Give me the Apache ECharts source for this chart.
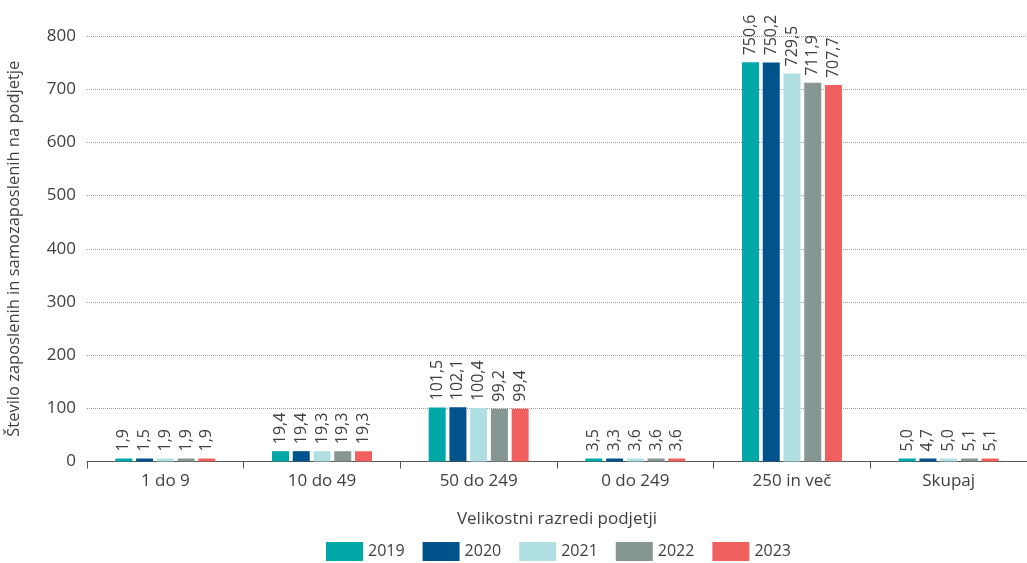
<!DOCTYPE html>
<html>
<head>
<meta charset="utf-8">
<script src="https://cdn.jsdelivr.net/npm/echarts@6/dist/echarts.min.js"></script>
<style>
html,body{margin:0;padding:0;background:#fff;}
#chart{width:1027px;height:563px;}
</style>
</head>
<body>
<div id="chart"></div>
<script>
// Size classes of enterprises
const categories = ['1 do 9', '10 do 49', '50 do 249', '0 do 249', '250 in več', 'Skupaj'];
const years = ['2019', '2020', '2021', '2022', '2023'];
// Employed and self-employed persons per enterprise, by year
const v2019 = [1.9, 19.4, 101.5, 3.5, 750.6, 5.0];
const v2020 = [1.5, 19.4, 102.1, 3.3, 750.2, 4.7];
const v2021 = [1.9, 19.3, 100.4, 3.6, 729.5, 5.0];
const v2022 = [1.9, 19.3, 99.2, 3.6, 711.9, 5.1];
const v2023 = [1.9, 19.3, 99.4, 3.6, 707.7, 5.1];
const yTicks = [0, 100, 200, 300, 400, 500, 600, 700, 800];

const seriesValues = [v2019, v2020, v2021, v2022, v2023];
const colors = ['#00a8a8', '#00538b', '#b0dfe1', '#859693', '#f0605e'];
const font = 'Open Sans';
const textColor = '#404040';

const chart = echarts.init(document.getElementById('chart'));
chart.setOption({
  animation: false,
  textStyle: { fontFamily: font },
  grid: { left: 87, right: 0, top: 36, bottom: 101.5, outerBoundsMode: 'none', containLabel: false },
  legend: {
    top: 537,
    left: 321,
    itemWidth: 37,
    itemHeight: 19,
    itemGap: 18,
    icon: 'rect',
    textStyle: { fontFamily: font, fontSize: 16, color: textColor, padding: [2, 0, 0, 0] },
    data: years
  },
  xAxis: {
    type: 'category',
    data: categories,
    name: 'Velikostni razredi podjetji',
    nameLocation: 'middle',
    nameGap: 49,
    nameTextStyle: { fontSize: 17, color: textColor },
    axisLine: { lineStyle: { color: '#555', width: 1 } },
    axisTick: { show: true, length: 7, lineStyle: { color: '#555' } },
    axisLabel: { fontSize: 17, color: textColor, margin: 11 }
  },
  yAxis: {
    type: 'value',
    min: yTicks[0],
    max: yTicks[yTicks.length - 1],
    interval: 100,
    name: 'Število zaposlenih in samozaposlenih na podjetje',
    nameLocation: 'middle',
    nameGap: 64,
    nameTextStyle: { fontSize: 16.5, color: textColor },
    axisLine: { show: false },
    axisTick: { show: false },
    axisLabel: { fontSize: 17, color: textColor, margin: 11 },
    splitLine: { lineStyle: { color: '#9a9a9a', type: [1, 1], width: 1 } }
  },
  series: seriesValues.map((vals, i) => ({
    name: years[i],
    type: 'bar',
    data: vals,
    barWidth: 17,
    barGap: '22%',
    barMinHeight: 3,
    itemStyle: { color: colors[i] },
    label: {
      show: true,
      position: 'top',
      rotate: 90,
      align: 'left',
      verticalAlign: 'middle',
      distance: 7,
      fontSize: 16,
      color: textColor,
      formatter: p => p.value.toFixed(1).replace('.', ',')
    }
  }))
});
</script>
</body>
</html>
